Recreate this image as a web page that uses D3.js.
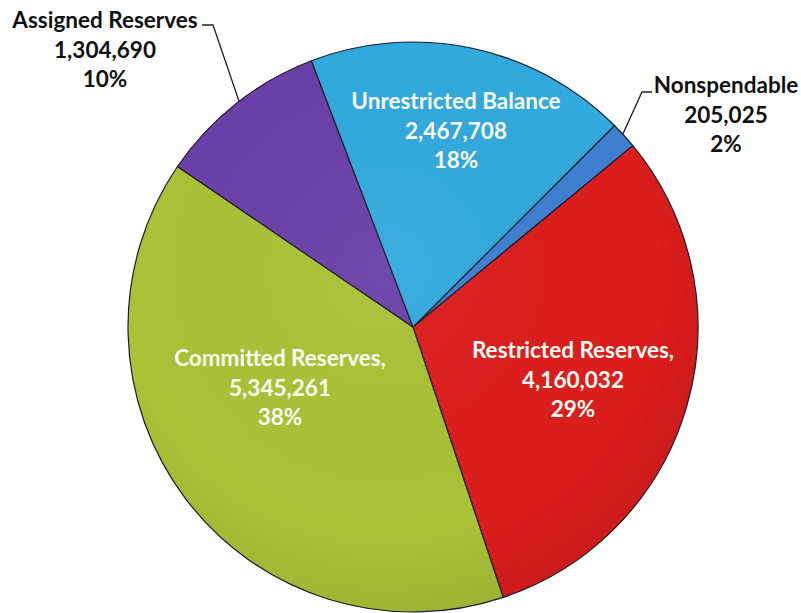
<!DOCTYPE html>
<html>
<head>
<meta charset="utf-8">
<script src="https://cdn.jsdelivr.net/npm/d3@7"></script>
<style>
  html, body { margin: 0; padding: 0; background: #ffffff; }
  svg { display: block; }
  text { font-family: Lato, "Open Sans", sans-serif; font-weight: bold; }
</style>
</head>
<body>
<svg id="chart" width="801" height="613"></svg>
<script>
// ---- data ----
const categories = ["Nonspendable", "Restricted Reserves", "Committed Reserves", "Assigned Reserves", "Unrestricted Balance"];
const values = [205025, 4160032, 5345261, 1304690, 2467708];
const valueLabels = ["205,025", "4,160,032", "5,345,261", "1,304,690", "2,467,708"];
const percentLabels = ["2%", "29%", "38%", "10%", "18%"];
const nameLabels = ["Nonspendable", "Restricted Reserves,", "Committed Reserves,", "Assigned Reserves", "Unrestricted Balance"];
const colors = ["#3e7fd0", "#dc1d1d", "#a9c236", "#6a40a8", "#31aadd"];

// ---- layout ----
const cx = 413, cy = 327, R = 285;
const svg = d3.select("#chart");

const defs = svg.append("defs");
const grad = defs.append("radialGradient").attr("id", "shade")
  .attr("cx", "45%").attr("cy", "40%").attr("r", "62%");
grad.append("stop").attr("offset", "0%").attr("stop-color", "#ffffff").attr("stop-opacity", 0.05);
grad.append("stop").attr("offset", "75%").attr("stop-color", "#000000").attr("stop-opacity", 0.0);
grad.append("stop").attr("offset", "100%").attr("stop-color", "#000000").attr("stop-opacity", 0.08);

const pie = d3.pie().sort(null).value(d => d)
  .startAngle(Math.PI / 4).endAngle(Math.PI / 4 + 2 * Math.PI);
const arcs = pie(values);
const arc = d3.arc().innerRadius(0).outerRadius(R);

const g = svg.append("g").attr("transform", `translate(${cx},${cy})`);
g.selectAll("path.slice").data(arcs).enter().append("path")
  .attr("class", "slice")
  .attr("d", arc)
  .attr("fill", (d, i) => colors[i])
  .attr("stroke", "#1c1c2a")
  .attr("stroke-width", 1.2)
  .attr("stroke-linejoin", "round");

g.append("circle").attr("r", R).attr("fill", "url(#shade)").attr("pointer-events", "none");

// ---- labels ----
const fs = 22.5, lh = 29.5;
const labelPos = [
  {x: 726, y: 93, color: "#111111"},
  {x: 573, y: 358, color: "#fbfbf2"},
  {x: 280, y: 366, color: "#fbfbf2"},
  {x: 105, y: 28, color: "#111111"},
  {x: 456, y: 109, color: "#fbfbf2"}
];
categories.forEach((c, i) => {
  const p = labelPos[i];
  const t = svg.append("text").attr("text-anchor", "middle")
    .attr("font-size", fs).attr("fill", p.color);
  [nameLabels[i], valueLabels[i], percentLabels[i]].forEach((s, k) => {
    t.append("tspan").attr("x", p.x).attr("y", p.y + k * lh).text(s);
  });
});

// ---- leader lines for outside labels ----
function pointAt(i, frac) {
  const a = arcs[i];
  const ang = a.startAngle + (a.endAngle - a.startAngle) * frac;
  return [cx + R * Math.sin(ang), cy - R * Math.cos(ang)];
}
const pN = pointAt(0, 0.44);
svg.append("polyline")
  .attr("points", [[pN[0], pN[1]], [642, 92], [652, 92]].map(p => p.join(",")).join(" "))
  .attr("fill", "none").attr("stroke", "#222").attr("stroke-width", 1.3);
const pA = pointAt(3, 0.52);
svg.append("polyline")
  .attr("points", [[pA[0], pA[1]], [213, 25], [202, 25]].map(p => p.join(",")).join(" "))
  .attr("fill", "none").attr("stroke", "#222").attr("stroke-width", 1.3);
</script>
</body>
</html>
